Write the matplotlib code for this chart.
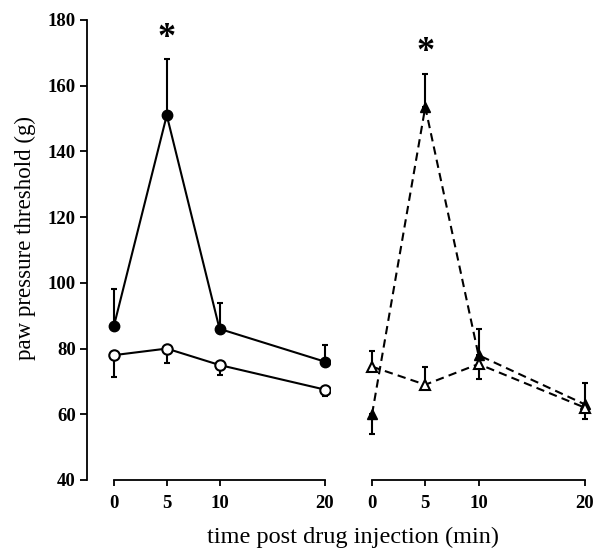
import numpy as np
import matplotlib
matplotlib.use('Agg')
import matplotlib.pyplot as plt

plt.rcParams['font.family'] = ['Liberation Serif', 'DejaVu Serif']

time = [0, 5, 10, 20]

# left panel: circles
filled_circ = [87, 151, 86, 76]
filled_circ_err = [11, 17, 8, 5]      # upward
open_circ = [78, 80, 75, 67.5]
open_circ_err = [6.5, 4.5, 3, 2]      # downward

# right panel: triangles
filled_tri = [60, 153.5, 78, 63]
filled_tri_err_up = [0, 10, 8, 6.5]
filled_tri_err_dn = [6, 0, 0, 0]
open_tri = [74.5, 69, 75.3, 62]
open_tri_err_up = [4.7, 5.5, 0, 0]
open_tri_err_dn = [0, 0, 4.5, 3.5]

xticks = [0, 5, 10, 20]
yticks = [40, 60, 80, 100, 120, 140, 160, 180]

W, H = 596, 552
fig = plt.figure(figsize=(W / 100, H / 100), dpi=100)

bot = (H - 480) / H
top = (H - 20) / H
ax1 = fig.add_axes([87 / W, bot, (330 - 87) / W, top - bot])
ax2 = fig.add_axes([365 / W, bot, (592 - 365) / W, top - bot])

lw = 1.5
ms = 7.5
cap = 2.5

ax1.errorbar(time, filled_circ, yerr=[[0] * 4, filled_circ_err], fmt='-o',
             color='black', mfc='black', ms=ms, lw=lw, capsize=cap, elinewidth=lw,
             capthick=lw, zorder=3)
ax1.errorbar(time, open_circ, yerr=[open_circ_err, [0] * 4], fmt='-o',
             color='black', mfc='white', mew=1.5, ms=ms, lw=lw, capsize=cap,
             elinewidth=lw, capthick=lw, zorder=3)

ax2.errorbar(time, filled_tri, yerr=[filled_tri_err_dn, filled_tri_err_up], fmt='--^',
             color='black', mfc='black', ms=ms, lw=lw, capsize=cap, elinewidth=lw,
             capthick=lw, dashes=(4, 2.5), zorder=3)
ax2.errorbar(time, open_tri, yerr=[open_tri_err_dn, open_tri_err_up], fmt='--^',
             color='black', mfc='white', mew=1.5, ms=ms, lw=lw, capsize=cap,
             elinewidth=lw, capthick=lw, dashes=(4, 2.5), zorder=3)

ax1.set_xlim(-2.56, 20.47)
ax2.set_xlim(-0.66, 20.66)
for ax in (ax1, ax2):
    ax.set_ylim(40, 180)
    ax.spines['top'].set_visible(False)
    ax.spines['right'].set_visible(False)
    ax.spines['bottom'].set_bounds(0, 20)
    ax.set_xticks(xticks)
    ax.tick_params(axis='both', direction='out', length=4, width=1.3,
                   labelsize=13.5, pad=7)
    ax.spines['bottom'].set_linewidth(1.3)
    ax.spines['left'].set_linewidth(1.3)
    for lab in ax.get_xticklabels():
        lab.set_fontweight('bold')

ax1.set_yticks(yticks)
for lab in ax1.get_yticklabels():
    lab.set_fontweight('bold')
ax1.tick_params(axis='y', length=5, pad=3)
ax2.spines['left'].set_visible(False)
ax2.set_yticks([])

ax1.text(5, 174.5, '*', ha='center', va='center', fontsize=26, fontweight='bold')
ax2.text(5, 170, '*', ha='center', va='center', fontsize=26, fontweight='bold')

fig.text(25 / W, 1 - 238 / H, 'paw pressure threshold (g)', rotation=90,
         ha='center', va='center', fontsize=16.5)
fig.text(353 / W, 4 / H, 'time post drug injection (min)', ha='center',
         va='bottom', fontsize=17.5)

fig.savefig('out.png', dpi=100)
